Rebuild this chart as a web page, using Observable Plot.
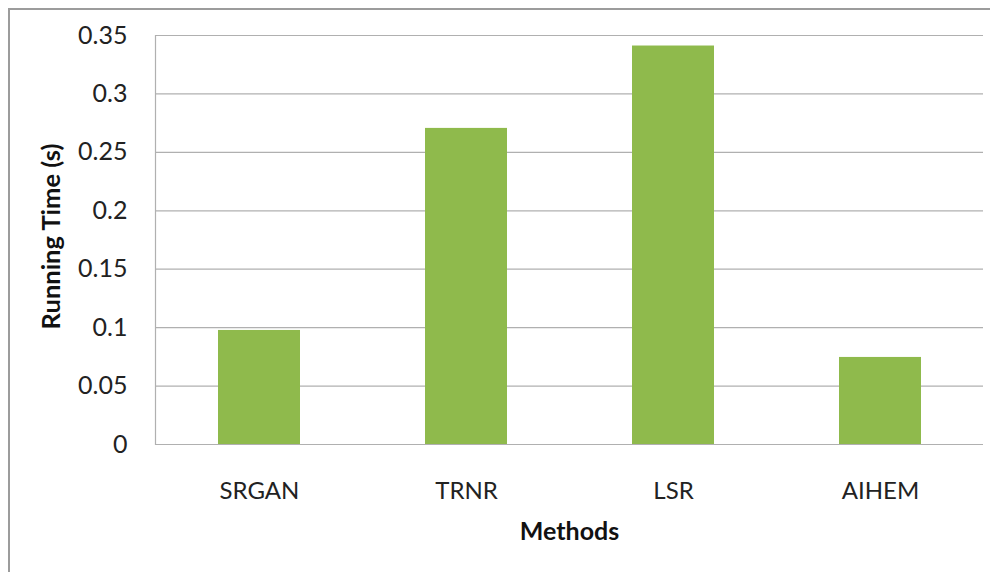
<!DOCTYPE html>
<html>
<head>
<meta charset="utf-8">
<script src="https://cdn.jsdelivr.net/npm/d3@7"></script>
<script src="https://cdn.jsdelivr.net/npm/@observablehq/plot@0.6"></script>
<style>
  html, body { margin: 0; padding: 0; background: #fff; }
  #wrap { position: relative; width: 990px; height: 572px; overflow: hidden; }
  #border { position: absolute; left: 8px; top: 8px; width: 1000px; height: 600px;
            border-top: 2px solid #9c9c9c; border-left: 2px solid #9c9c9c; box-sizing: border-box; }
  #chart { position: absolute; left: 0; top: 0; }
</style>
</head>
<body>
<div id="wrap"><div id="border"></div><div id="chart"></div></div>
<script>
const methods = ["SRGAN", "TRNR", "LSR", "AIHEM"];
const times = [0.0976, 0.2705, 0.341, 0.0745];
const yTicks = [0, 0.05, 0.1, 0.15, 0.2, 0.25, 0.3, 0.35];
const yTickLabels = ["0", "0.05", "0.1", "0.15", "0.2", "0.25", "0.3", "0.35"];
const xTitle = "Methods";
const yTitle = "Running Time (s)";

const data = methods.map((m, i) => ({method: m, time: times[i]}));

const chart = Plot.plot({
  width: 990,
  height: 572,
  marginLeft: 155,
  marginRight: 7,
  marginTop: 35,
  marginBottom: 128,
  style: {fontFamily: "Lato, 'Open Sans', sans-serif", background: "transparent", color: "#222"},
  x: {domain: methods, paddingInner: 0.604, paddingOuter: 0.302, label: null},
  y: {domain: [0, 0.35], label: null},
  marks: [
    Plot.gridY(yTicks, {stroke: "#b0b0b0", strokeOpacity: 1, strokeWidth: 1.2}),
    Plot.frame({anchor: "left", stroke: "#b0b0b0", strokeWidth: 1.2}),
    Plot.barY(data, {x: "method", y: "time", fill: "#8fba4c"}),
    Plot.axisY(yTicks, {tickSize: 0, tickPadding: 28, fontSize: 25, label: null,
      tickFormat: (d, i) => yTickLabels[i], fill: "#222"}),
    Plot.axisX({tickSize: 0, tickPadding: 37, fontSize: 24, label: null, fill: "#222"}),
    Plot.text([xTitle], {text: d => d, frameAnchor: "bottom", dy: 95, dx: 0,
      fontSize: 25, fontWeight: "bold", fill: "#111"}),
    Plot.text([yTitle], {text: d => d, frameAnchor: "left", textAnchor: "middle", rotate: -90,
      dx: -104, dy: -3.5, fontSize: 25.5, fontWeight: "bold", fill: "#111"})
  ]
});
document.getElementById("chart").appendChild(chart);
</script>
</body>
</html>
